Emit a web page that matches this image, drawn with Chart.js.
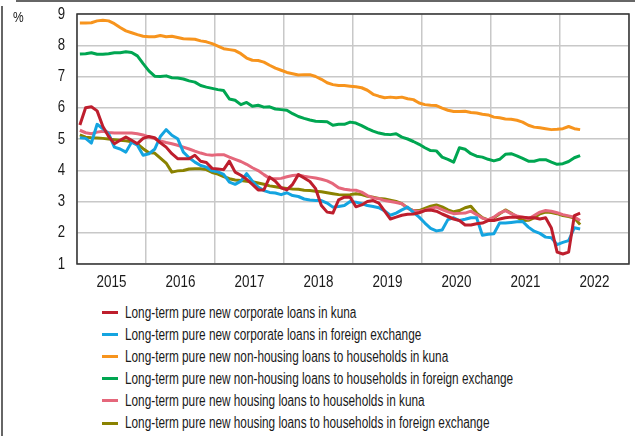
<!DOCTYPE html>
<html><head><meta charset="utf-8">
<script src="https://cdn.jsdelivr.net/npm/chart.js@4/dist/chart.umd.min.js"></script>
<style>
html,body{margin:0;padding:0;background:#fff;}
body{width:635px;height:436px;position:relative;overflow:hidden;font-family:'Liberation Sans',Arial,sans-serif;color:#1a1a1a;}
#frameTop{position:absolute;left:16px;top:0;width:619px;height:0;border-top:2px solid #666;}
#frameLeft{position:absolute;left:1px;top:6px;width:0;height:430px;border-left:2px solid #666;}
#wrap{position:absolute;left:0;top:0;width:635px;height:300px;}
#unit{position:absolute;left:13px;top:9px;font-size:15px;line-height:15px;transform:scaleX(0.8);transform-origin:0 0;}
#legend{position:absolute;left:102px;top:301.5px;font-size:16px;}
.row{height:22.1px;display:flex;align-items:center;white-space:nowrap;}
.sw{width:16px;height:3px;margin-right:7px;flex:none;}
.tx{display:inline-block;transform:scaleX(0.737);transform-origin:0 50%;}
</style></head>
<body>
<div id="frameTop"></div><div id="frameLeft"></div>
<div id="wrap"><canvas id="c" width="635" height="300"></canvas></div>
<div id="unit">%</div>
<div id="legend"></div>
<script>
const YEAR_LABELS = ['2015','2016','2017','2018','2019','2020','2021','2022'];
const Y_TICKS = [1,2,3,4,5,6,7,8,9];
const SERIES_NAMES = [
  'Long-term pure new corporate loans in kuna',
  'Long-term pure new corporate loans in foreign exchange',
  'Long-term pure new non-housing loans to households in kuna',
  'Long-term pure new non-housing loans to households in foreign exchange',
  'Long-term pure new housing loans to households in kuna',
  'Long-term pure new housing loans to households in foreign exchange'
];
const CORP_KUNA = [5.45,6.00,6.03,5.90,5.40,5.08,4.85,4.96,5.06,4.96,4.85,5.02,
5.08,5.04,4.88,4.74,4.53,4.37,4.37,4.37,4.48,4.29,4.25,4.06,
4.04,4.02,4.29,3.94,3.84,3.71,3.55,3.37,3.37,3.78,3.65,3.44,
3.37,3.55,3.86,3.75,3.64,3.41,2.87,2.66,2.63,3.05,3.14,3.14,
2.83,2.89,3.00,3.03,2.95,2.69,2.44,2.50,2.56,2.59,2.60,2.64,
2.71,2.73,2.69,2.60,2.52,2.44,2.39,2.25,2.25,2.29,2.31,2.39,
2.39,2.44,2.48,2.50,2.50,2.50,2.48,2.48,2.44,2.48,2.15,1.38,
1.32,1.38,2.55,2.63];
const CORP_FX = [5.04,5.02,4.87,5.47,5.33,5.17,4.74,4.68,4.58,4.90,4.80,4.48,
4.53,4.67,5.08,5.30,5.12,5.01,4.58,4.40,4.26,4.15,4.10,3.98,
3.95,3.87,3.62,3.55,3.65,3.89,3.65,3.46,3.35,3.29,3.27,3.22,
3.28,3.19,3.16,3.08,3.05,3.03,3.03,2.95,2.82,2.84,2.87,3.00,
2.98,2.93,2.87,2.84,2.80,2.70,2.56,2.63,2.73,2.82,2.65,2.50,
2.31,2.14,2.06,2.09,2.42,2.48,2.39,2.43,2.48,2.48,1.92,1.95,
1.97,2.31,2.31,2.33,2.35,2.36,2.18,2.05,1.98,1.86,1.84,1.62,
1.69,1.75,2.16,2.12];
const NONHOUS_KUNA = [8.71,8.71,8.72,8.78,8.80,8.78,8.69,8.57,8.46,8.40,8.34,8.29,
8.27,8.27,8.31,8.27,8.29,8.25,8.21,8.20,8.19,8.14,8.11,8.05,
7.97,7.89,7.86,7.83,7.73,7.59,7.52,7.51,7.46,7.36,7.27,7.20,
7.13,7.09,7.05,7.06,7.06,7.00,6.91,6.80,6.74,6.71,6.71,6.69,
6.67,6.64,6.56,6.43,6.37,6.32,6.34,6.32,6.34,6.29,6.26,6.15,
6.10,6.08,6.07,5.99,5.92,5.88,5.88,5.89,5.85,5.83,5.79,5.77,
5.70,5.68,5.64,5.63,5.60,5.54,5.44,5.38,5.36,5.33,5.30,5.31,
5.33,5.40,5.33,5.30];
const NONHOUS_FX = [7.72,7.73,7.76,7.71,7.71,7.73,7.76,7.76,7.79,7.77,7.66,7.41,
7.18,7.01,7.00,7.02,6.96,6.95,6.92,6.86,6.82,6.71,6.66,6.62,
6.58,6.55,6.28,6.24,6.10,6.17,6.05,6.08,6.02,6.03,5.96,5.94,
5.92,5.81,5.72,5.66,5.61,5.57,5.56,5.55,5.44,5.47,5.47,5.54,
5.51,5.43,5.33,5.25,5.19,5.15,5.14,5.17,5.06,5.00,4.92,4.83,
4.72,4.63,4.62,4.42,4.35,4.26,4.72,4.67,4.53,4.45,4.42,4.35,
4.30,4.35,4.51,4.53,4.46,4.38,4.29,4.29,4.34,4.34,4.26,4.19,
4.21,4.28,4.40,4.47];
const HOUS_KUNA = [5.28,5.20,5.17,5.22,5.25,5.21,5.19,5.19,5.19,5.19,5.17,5.13,
5.07,5.01,4.94,4.89,4.85,4.80,4.74,4.68,4.61,4.55,4.50,4.48,
4.50,4.50,4.42,4.35,4.28,4.19,4.08,3.99,3.86,3.74,3.73,3.74,
3.79,3.83,3.85,3.81,3.78,3.75,3.71,3.66,3.57,3.44,3.39,3.37,
3.36,3.30,3.19,3.12,3.09,3.03,3.00,2.97,2.93,2.78,2.71,2.68,
2.72,2.78,2.82,2.74,2.67,2.61,2.62,2.63,2.69,2.58,2.47,2.41,
2.50,2.63,2.71,2.61,2.54,2.50,2.44,2.55,2.66,2.71,2.69,2.64,
2.58,2.54,2.50,2.39];
const HOUS_FX = [5.13,5.06,5.04,5.03,5.02,5.00,4.98,4.96,4.94,4.91,4.84,4.69,
4.56,4.55,4.39,4.23,3.94,3.98,3.99,4.04,4.05,4.05,4.02,3.93,
3.88,3.80,3.73,3.69,3.67,3.65,3.63,3.59,3.55,3.50,3.47,3.44,
3.42,3.40,3.39,3.36,3.35,3.33,3.31,3.28,3.25,3.22,3.21,3.22,
3.25,3.22,3.17,3.14,3.10,3.08,3.04,3.00,2.93,2.79,2.71,2.71,
2.78,2.85,2.89,2.83,2.73,2.67,2.71,2.80,2.85,2.63,2.48,2.41,
2.48,2.61,2.73,2.63,2.50,2.39,2.40,2.48,2.61,2.66,2.65,2.61,
2.55,2.52,2.47,2.26];

const SERIES = [CORP_KUNA, CORP_FX, NONHOUS_KUNA, NONHOUS_FX, HOUS_KUNA, HOUS_FX];
const COLORS = ['#be1e2d','#14a4e0','#f7941d','#00a651','#e5677b','#8a8200'];
const FONT = "'Liberation Sans',Arial,sans-serif";

const framePlugin = {
  id:'frame',
  beforeDatasetsDraw(chart){
    const a = chart.chartArea, ctx = chart.ctx;
    ctx.save();
    ctx.strokeStyle = '#333';
    ctx.lineWidth = 1.5;
    ctx.strokeRect(a.left, a.top, a.right - a.left, a.bottom - a.top);
    ctx.restore();
  },
  afterDraw(chart){
    const ctx = chart.ctx, a = chart.chartArea;
    const xs = chart.scales.x, ys = chart.scales.y;
    ctx.save();
    ctx.fillStyle = '#1a1a1a';
    ctx.textBaseline = 'middle';
    ctx.font = "17px " + FONT;
    ctx.textAlign = 'center';
    YEAR_LABELS.forEach((lab, k) => {
      const px = xs.getPixelForValue(k * 12 + 6);
      ctx.save(); ctx.translate(px, a.bottom + 18.5); ctx.scale(0.79, 1);
      ctx.fillText(lab, 0, 0); ctx.restore();
    });
    ctx.font = "16.5px " + FONT;
    ctx.textAlign = 'right';
    Y_TICKS.forEach(v => {
      const py = ys.getPixelForValue(v);
      ctx.save(); ctx.translate(a.left - 12, py); ctx.scale(0.8, 1);
      ctx.fillText(String(v), 0, 0); ctx.restore();
    });
    ctx.restore();
  }
};

const chart = new Chart(document.getElementById('c'), {
  type:'line',
  data:{
    datasets: SERIES.map((vals, k) => ({
      label: SERIES_NAMES[k],
      data: vals.map((v, i) => ({x: i + 0.5, y: v})),
      borderColor: COLORS[k],
      backgroundColor: COLORS[k],
      borderWidth: 3,
      pointRadius: 0,
      fill: false,
      tension: 0
    }))
  },
  options:{
    responsive:false, animation:false,
    layout:{padding:{left:0,right:6,top:14,bottom:0}},
    plugins:{legend:{display:false}, tooltip:{enabled:false}},
    elements:{line:{borderCapStyle:'butt', borderJoinStyle:'round'}},
    scales:{
      x:{type:'linear', min:0, max:96, position:'bottom',
        grid:{color:'#c8c8c8', lineWidth:1.5, drawTicks:false},
        border:{display:false},
        ticks:{display:false},
        afterBuildTicks: s => { s.ticks = YEAR_LABELS.map((_, k) => ({value: k * 12})).concat([{value: 96}]); },
        afterFit: s => { s.height = 36; }
      },
      y:{min:1, max:9,
        ticks:{stepSize:1, display:false},
        grid:{color:'#c8c8c8', lineWidth:1.5, drawTicks:false},
        border:{display:false},
        afterBuildTicks: s => { s.ticks = Y_TICKS.map(v => ({value: v})); },
        afterFit: s => { s.width = 77; }
      }
    }
  },
  plugins:[framePlugin]
});

const legend = document.getElementById('legend');
chart.data.datasets.forEach(ds => {
  const row = document.createElement('div'); row.className = 'row';
  const sw = document.createElement('span'); sw.className = 'sw'; sw.style.background = ds.borderColor;
  const tx = document.createElement('span'); tx.className = 'tx'; tx.textContent = ds.label;
  row.appendChild(sw); row.appendChild(tx); legend.appendChild(row);
});
</script>
</body></html>
